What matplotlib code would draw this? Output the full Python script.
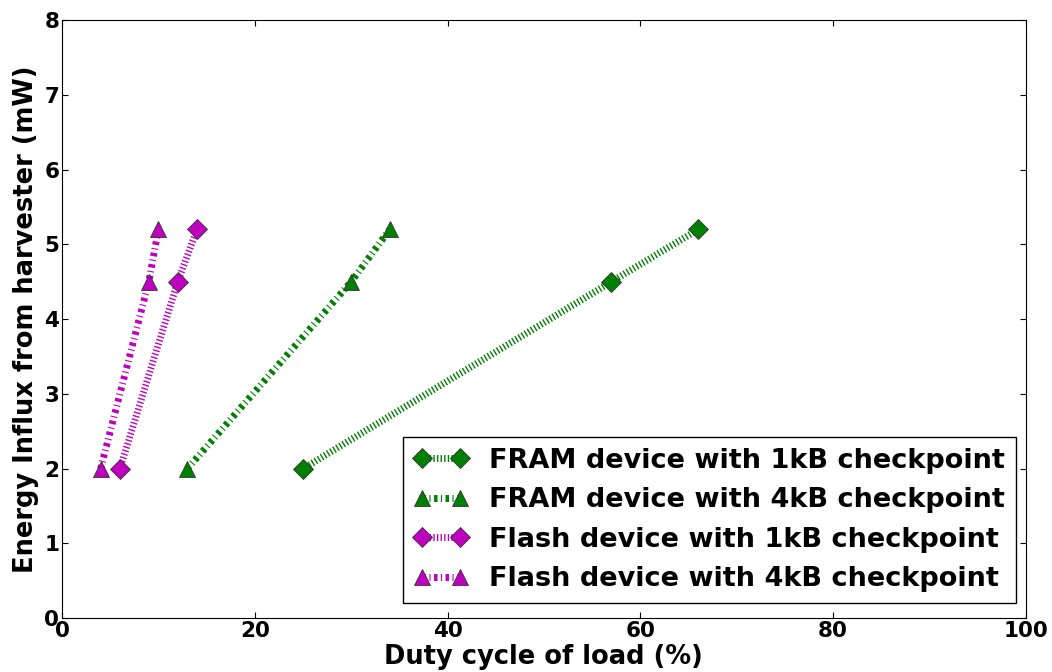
import numpy as np
import matplotlib
matplotlib.use("Agg")
import matplotlib.pyplot as plt

# datos
energy = [2, 4.5, 5.2]
fram_1kb = [25, 57, 66]
fram_4kb = [13, 30, 34]
flash_1kb = [6, 12, 14]
flash_4kb = [4, 9, 10]
labels = ["FRAM device with 1kB checkpoint", "FRAM device with 4kB checkpoint",
          "Flash device with 1kB checkpoint", "Flash device with 4kB checkpoint"]

plt.rcParams["font.family"] = "DejaVu Sans"
plt.rcParams["font.weight"] = "bold"
plt.rcParams["lines.scale_dashes"] = False

fig = plt.figure(figsize=(10.52, 6.72), dpi=100)
ax = fig.add_axes([0.059, 0.080, 0.916, 0.890])

ax.plot(fram_1kb, energy, color="g", marker="D", markersize=10, linewidth=5,
        dashes=(1, 1.6), markeredgecolor="#333333", markeredgewidth=0.6, label=labels[0])
ax.plot(fram_4kb, energy, color="g", marker="^", markersize=11, linewidth=5,
        dashes=(2.5, 2.5, 0.8, 2.5), markeredgecolor="#333333", markeredgewidth=0.6, label=labels[1])
ax.plot(flash_1kb, energy, color="m", marker="D", markersize=10, linewidth=5,
        dashes=(1, 1.6), markeredgecolor="#333333", markeredgewidth=0.6, label=labels[2])
ax.plot(flash_4kb, energy, color="m", marker="^", markersize=11, linewidth=5,
        dashes=(2.5, 2.5, 0.8, 2.5), markeredgecolor="#333333", markeredgewidth=0.6, label=labels[3])

ax.set_xlim(0, 100)
ax.set_ylim(0, 8)
ax.tick_params(direction="in", top=True, right=True, labelsize=15.5, length=4, pad=2)
ax.set_xlabel("Duty cycle of load (%)", fontsize=18.5, fontweight="bold", labelpad=2)
ax.set_ylabel("Energy Influx from harvester (mW)", fontsize=18.5, fontweight="bold", labelpad=4)
ax.legend(loc="lower right", bbox_to_anchor=(0.99, 0.025), numpoints=2, fontsize=19.5,
          fancybox=False, edgecolor="black", framealpha=1, handlelength=2.0,
          handletextpad=0.8, borderaxespad=0, labelspacing=0.5, borderpad=0.4)

fig.savefig("out.png", dpi=100)
